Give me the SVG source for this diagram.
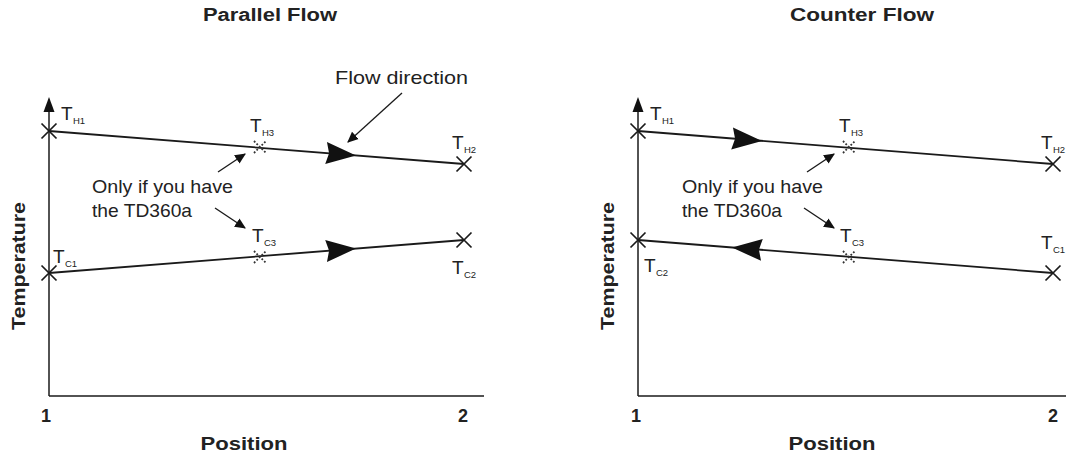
<svg xmlns="http://www.w3.org/2000/svg" width="1068" height="461" viewBox="0 0 1068 461">
<style>
.ax{stroke:#1a1a1a;stroke-width:1.5;fill:none}
.ln{stroke:#1a1a1a;stroke-width:1.8;fill:none}
.xm{stroke:#1a1a1a;stroke-width:1.7;fill:none}
.dx{stroke:#333;stroke-width:1.8;stroke-dasharray:1.8 1.8;fill:none}
.ld{stroke:#1a1a1a;stroke-width:1.3;fill:none;marker-end:url(#ah)}
.t{font-family:"Liberation Sans",Arial,sans-serif;fill:#222}
.b{font-weight:bold;font-size:18px}
.n{font-size:18.5px}
.T{font-size:19px}
.s{font-size:9.5px}
.fa{fill:#111}
</style>
<defs>
<marker id="ah" viewBox="0 0 10 10" refX="9" refY="5" markerWidth="11" markerHeight="11" markerUnits="userSpaceOnUse" orient="auto">
<path d="M0,0.5 L10,5 L0,9.5 z" fill="#111"/>
</marker>
<path id="flow" d="M0,0 L-30,-11 L-27,0 L-30,11 z"/>
<path id="xx" d="M-7.5,-7.5 L7.5,7.5 M-7.5,7.5 L7.5,-7.5"/>
<path id="dxx" d="M-6,-6 L6,6 M-6,6 L6,-6"/>
<path id="yah" d="M0,-11 L-5.5,4 L5.5,4 z"/>
</defs>

<g id="parallel-title"><text class="t b" x="270" y="21" text-anchor="middle" textLength="134" lengthAdjust="spacingAndGlyphs">Parallel Flow</text></g>
<g id="counter-title"><text class="t b" x="862" y="21" text-anchor="middle" textLength="144" lengthAdjust="spacingAndGlyphs">Counter Flow</text></g>

<g id="left-axes">
<line class="ax" x1="49" y1="396" x2="49" y2="106"/>
<use href="#yah" x="49" y="108" fill="#111"/>
<line class="ax" x1="49" y1="396" x2="484" y2="396"/>
<text class="t b" x="46" y="422" text-anchor="middle">1</text>
<text class="t b" x="463" y="422" text-anchor="middle">2</text>
<text class="t b" x="244" y="450" text-anchor="middle" textLength="87" lengthAdjust="spacingAndGlyphs">Position</text>
<text class="t b" transform="translate(25,266) rotate(-90)" text-anchor="middle" textLength="128" lengthAdjust="spacingAndGlyphs">Temperature</text>
</g>

<g id="right-axes">
<line class="ax" x1="638" y1="396" x2="638" y2="106"/>
<use href="#yah" x="638" y="108" fill="#111"/>
<line class="ax" x1="638" y1="396" x2="1066" y2="396"/>
<text class="t b" x="636" y="422" text-anchor="middle">1</text>
<text class="t b" x="1053" y="422" text-anchor="middle">2</text>
<text class="t b" x="832" y="450" text-anchor="middle" textLength="87" lengthAdjust="spacingAndGlyphs">Position</text>
<text class="t b" transform="translate(614,266) rotate(-90)" text-anchor="middle" textLength="128" lengthAdjust="spacingAndGlyphs">Temperature</text>
</g>

<g id="connectors">
<line class="ln" x1="49" y1="131" x2="464" y2="164"/>
<line class="ln" x1="49" y1="273" x2="464" y2="240"/>
<use class="fa" href="#flow" transform="translate(356,155.4) rotate(4.55)"/>
<use class="fa" href="#flow" transform="translate(356,248.6) rotate(-4.55)"/>
<line class="ld" x1="218" y1="172" x2="245" y2="154"/>
<line class="ld" x1="215" y1="208" x2="245" y2="228"/>
<line class="ld" x1="402" y1="93" x2="348" y2="142"/>
<line class="ln" x1="638" y1="131" x2="1053" y2="164"/>
<line class="ln" x1="638" y1="240" x2="1053" y2="273"/>
<use class="fa" href="#flow" transform="translate(762,140.9) rotate(4.55)"/>
<use class="fa" href="#flow" transform="translate(732,247.5) rotate(184.55)"/>
<line class="ld" x1="807" y1="172" x2="834" y2="154"/>
<line class="ld" x1="804" y1="208" x2="834" y2="228"/>
</g>

<g id="L-TH1"><use class="xm" href="#xx" x="49" y="131"/><text class="t T" x="61" y="120">T</text><text class="t s" x="73" y="124">H1</text></g>
<g id="L-TH3"><use class="dx" href="#dxx" x="260" y="147"/><text class="t T" x="250" y="132">T</text><text class="t s" x="262" y="136">H3</text></g>
<g id="L-TH2"><use class="xm" href="#xx" x="464" y="164"/><text class="t T" x="452" y="149">T</text><text class="t s" x="464" y="153">H2</text></g>
<g id="L-TC1"><use class="xm" href="#xx" x="49" y="273"/><text class="t T" x="53" y="263">T</text><text class="t s" x="65" y="267">C1</text></g>
<g id="L-TC3"><use class="dx" href="#dxx" x="260" y="257"/><text class="t T" x="252" y="242">T</text><text class="t s" x="264" y="246">C3</text></g>
<g id="L-TC2"><use class="xm" href="#xx" x="464" y="240"/><text class="t T" x="452" y="274">T</text><text class="t s" x="464" y="278">C2</text></g>
<g id="L-note"><text class="t n" x="92" y="193" textLength="141" lengthAdjust="spacingAndGlyphs">Only if you have</text><text class="t n" x="92" y="217" textLength="100" lengthAdjust="spacingAndGlyphs">the TD360a</text></g>
<g id="L-flowdir"><text class="t n" x="335" y="84" textLength="133" lengthAdjust="spacingAndGlyphs">Flow direction</text></g>

<g id="R-TH1"><use class="xm" href="#xx" x="638" y="131"/><text class="t T" x="650" y="120">T</text><text class="t s" x="662" y="124">H1</text></g>
<g id="R-TH3"><use class="dx" href="#dxx" x="849" y="147"/><text class="t T" x="839" y="132">T</text><text class="t s" x="851" y="136">H3</text></g>
<g id="R-TH2"><use class="xm" href="#xx" x="1053" y="164"/><text class="t T" x="1041" y="149">T</text><text class="t s" x="1053" y="153">H2</text></g>
<g id="R-TC2"><use class="xm" href="#xx" x="638" y="240"/><text class="t T" x="644" y="272">T</text><text class="t s" x="656" y="276">C2</text></g>
<g id="R-TC3"><use class="dx" href="#dxx" x="849" y="257"/><text class="t T" x="840" y="242">T</text><text class="t s" x="852" y="246">C3</text></g>
<g id="R-TC1"><use class="xm" href="#xx" x="1053" y="273"/><text class="t T" x="1041" y="249">T</text><text class="t s" x="1053" y="253">C1</text></g>
<g id="R-note"><text class="t n" x="682" y="193" textLength="141" lengthAdjust="spacingAndGlyphs">Only if you have</text><text class="t n" x="682" y="217" textLength="100" lengthAdjust="spacingAndGlyphs">the TD360a</text></g>
</svg>
